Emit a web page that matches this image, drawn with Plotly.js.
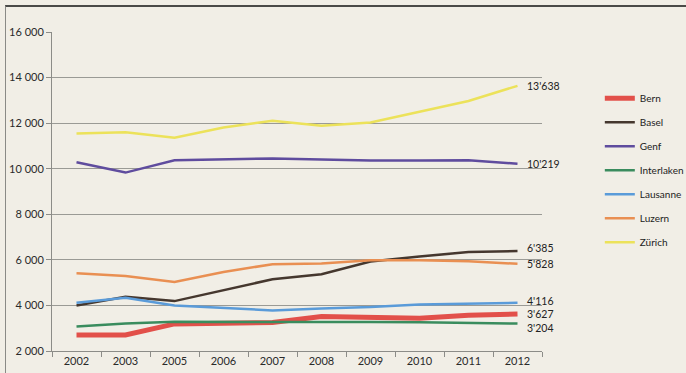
<!DOCTYPE html>
<html>
<head>
<meta charset="utf-8">
<script src="https://cdn.plot.ly/plotly-3.0.1.min.js"></script>
<style>
  html, body { margin: 0; padding: 0; background: #f1eee6; }
  #wrap { position: relative; width: 686px; height: 373px; overflow: hidden; }
  #chart { position: absolute; left: 0; top: 0; width: 686px; height: 373px; }
  #frame { position: absolute; left: 5px; top: 5px; width: 690px; height: 380px;
           border-top: 2px solid #4a4a48; border-left: 1px solid #8a8a86; pointer-events: none; }
</style>
</head>
<body>
<div id="wrap">
  <div id="chart"></div>
  <div id="frame"></div>
</div>
<script>
const years = ['2002','2003','2005','2006','2007','2008','2009','2010','2011','2012'];
const bern       = [2700, 2700, 3190, 3230, 3250, 3510, 3480, 3440, 3570, 3627];
const basel      = [4000, 4380, 4190, 4680, 5150, 5370, 5930, 6150, 6340, 6385];
const genf       = [10280, 9830, 10370, 10400, 10450, 10400, 10360, 10360, 10370, 10219];
const interlaken = [3070, 3210, 3280, 3280, 3300, 3280, 3270, 3260, 3230, 3204];
const lausanne   = [4120, 4340, 4000, 3900, 3780, 3870, 3930, 4040, 4090, 4116];
const luzern     = [5410, 5290, 5030, 5470, 5810, 5840, 5980, 5980, 5940, 5828];
const zuerich    = [11550, 11600, 11360, 11810, 12100, 11890, 12030, 12510, 12970, 13638];
const cityNames  = ['Bern', 'Basel', 'Genf', 'Interlaken', 'Lausanne', 'Luzern', 'Zürich'];

const series = [bern, basel, genf, interlaken, lausanne, luzern, zuerich];
const colors = ['#e2504a', '#45372e', '#5f4c9e', '#3a8c5e', '#5a9bd9', '#e98f52', '#ece25a'];
const widths = [5, 2.5, 2.5, 2.5, 2.5, 2.5, 2.5];
const labelShift = { 'Basel': 3, 'Lausanne': 2, 'Bern': 0, 'Interlaken': -4.5 };

const fmt = v => String(v).replace(/\B(?=(\d{3})+(?!\d))/g, "'");

const traces = series.map((ys, i) => ({
  type: 'scatter', mode: 'lines', name: cityNames[i],
  x: years, y: ys, legendgroup: cityNames[i],
  line: { color: colors[i], width: widths[i] },
  hoverinfo: 'skip'
}));

const lastIdx = years.length - 1;
const annotations = series.map((ys, i) => ({
  x: lastIdx, y: ys[ys.length - 1], xref: 'x', yref: 'y',
  text: fmt(ys[ys.length - 1]), showarrow: false, borderpad: 0,
  xanchor: 'left', yanchor: 'middle', xshift: 8, yshift: labelShift[cityNames[i]] || 0,
  font: { family: 'Lato, sans-serif', size: 10.5, color: '#222' }
}));

const layout = {
  width: 686, height: 373,
  margin: { l: 52, r: 144, t: 32, b: 22, autoexpand: false },
  paper_bgcolor: '#f1eee6', plot_bgcolor: 'rgba(0,0,0,0)',
  separators: '. ',
  font: { family: 'Lato, sans-serif', size: 11, color: '#2a2a2a' },
  showlegend: true,
  legend: {
    x: 1.118, xanchor: 'left', y: 0.838, yanchor: 'top',
    bgcolor: 'rgba(0,0,0,0)', borderwidth: 0,
    traceorder: 'grouped', tracegroupgap: 5,
    font: { family: 'Lato, sans-serif', size: 10, color: '#222' }
  },
  xaxis: {
    type: 'category', tickson: 'boundaries',
    range: [-0.5, years.length - 0.5], autorange: false,
    showline: true, linecolor: '#8c8c88', linewidth: 1,
    ticks: 'outside', ticklen: 5, tickcolor: '#8c8c88',
    showgrid: false, zeroline: false,
    tickfont: { size: 11, color: '#2a2a2a' }
  },
  yaxis: {
    range: [2000, 16000], autorange: false, dtick: 2000, tickformat: ',d',
    showline: true, linecolor: '#8c8c88', linewidth: 1,
    ticks: 'outside', ticklen: 5, tickcolor: '#8c8c88',
    showgrid: true, gridcolor: '#9a9a95', gridwidth: 1,
    zeroline: false,
    tickfont: { size: 11, color: '#2a2a2a' }
  },
  annotations: annotations
};

Plotly.newPlot('chart', traces, layout, { staticPlot: true, displayModeBar: false });
</script>
</body>
</html>
